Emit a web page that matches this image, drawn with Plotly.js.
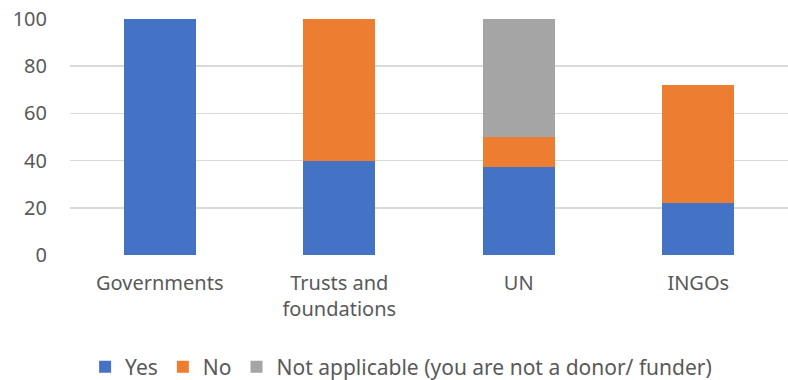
<!DOCTYPE html>
<html><head><meta charset="utf-8">
<script src="https://cdn.plot.ly/plotly-3.0.1.min.js"></script>
<style>html,body{margin:0;padding:0;background:#fff}#c{width:788px;height:380px}</style>
</head><body><div id="c"></div>
<script>
const categories = ["Governments", "Trusts and<br>foundations", "UN", "INGOs"];
const yesValues = [100, 40, 37.5, 22];
const noValues = [0, 60, 12.5, 50];
const naValues = [0, 0, 50, 0];
const seriesNames = ["Yes", "No", "Not applicable (you are not a donor/ funder)"];
const tickValues = [0, 20, 40, 60, 80, 100];

const colors = ["#4472C4", "#ED7D31", "#A5A5A5"];
const data = [yesValues, noValues, naValues].map((v, i) => ({
  type: "bar", x: categories, y: v, name: seriesNames[i],
  marker: {color: colors[i]}, hoverinfo: "none"
}));
const fam = "Noto Sans, sans-serif";
const tickFont = {family: fam, size: 20, color: "#595959"};
const legFont = {family: fam, size: 21, color: "#595959"};
Plotly.newPlot("c", data, {
  width: 788, height: 380, barmode: "stack", bargap: 0.6,
  margin: {l: 70, r: 0, t: 19, b: 125, autoexpand: false},
  font: tickFont, showlegend: true,
  paper_bgcolor: "#fff", plot_bgcolor: "#fff",
  xaxis: {showgrid: false, showline: false, ticks: "", tickfont: tickFont, ticklabelstandoff: 14, automargin: false},
  yaxis: {range: [0, 100], tickvals: tickValues, gridcolor: "#d9d9d9", gridwidth: 1.5, automargin: false,
          zeroline: false, showline: false, ticks: "", tickfont: tickFont, ticklabelstandoff: 22},
  legend: {orientation: "h", xref: "container", yref: "container", x: 0.108, xanchor: "left",
           y: 0.088, yanchor: "top", font: legFont, itemwidth: 30, traceorder: "normal"}
}, {displayModeBar: false, staticPlot: true});
</script></body></html>
